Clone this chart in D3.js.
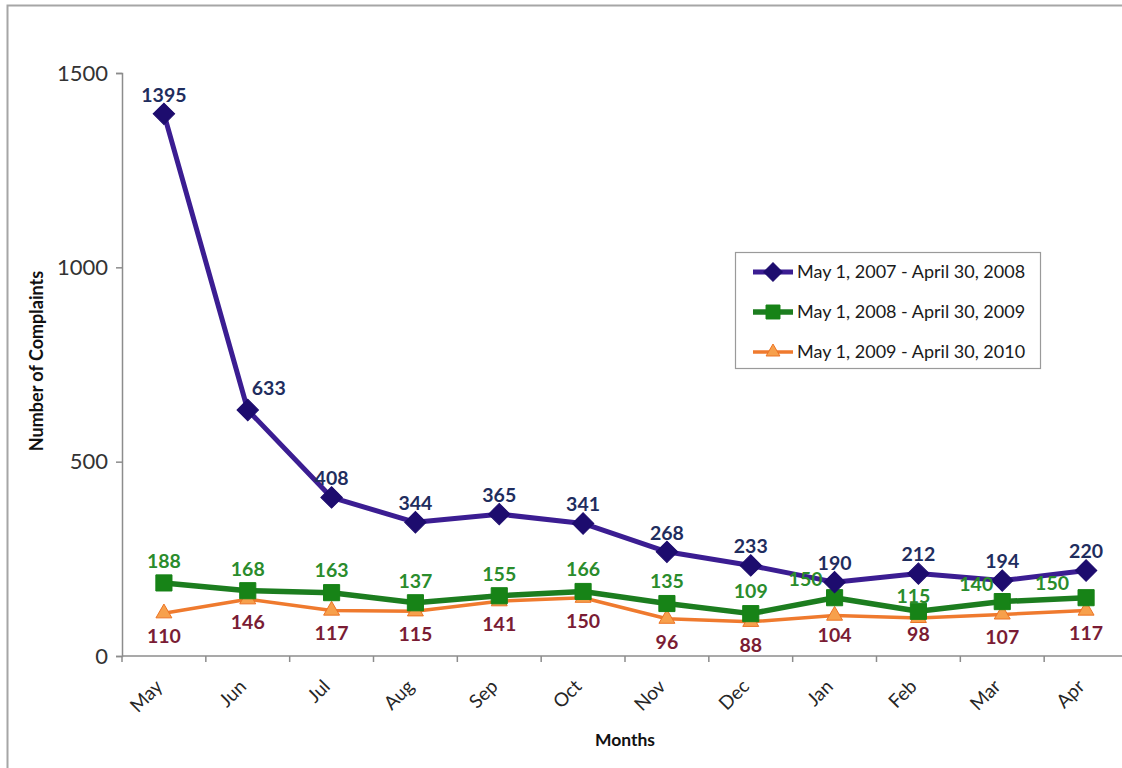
<!DOCTYPE html>
<html>
<head>
<meta charset="utf-8">
<script src="https://cdn.jsdelivr.net/npm/d3@7/dist/d3.min.js"></script>
<style>
  html, body { margin: 0; padding: 0; background: #fff; overflow: hidden; }
  svg { display: block; }
  text { font-family: Lato, "Open Sans", sans-serif; }
</style>
</head>
<body>
<svg id="chart" width="1122" height="768"></svg>
<script>
// Monthly complaint counts, one array per reporting year (May..Apr)
const months = ["May", "Jun", "Jul", "Aug", "Sep", "Oct", "Nov", "Dec", "Jan", "Feb", "Mar", "Apr"];
const seriesNames = [
  "May 1, 2007 - April 30, 2008",
  "May 1, 2008 - April 30, 2009",
  "May 1, 2009 - April 30, 2010"
];
const values2007 = [1395, 633, 408, 344, 365, 341, 268, 233, 190, 212, 194, 220];
const values2008 = [188, 168, 163, 137, 155, 166, 135, 109, 150, 115, 140, 150];
const values2009 = [110, 146, 117, 115, 141, 150, 96, 88, 104, 98, 107, 117];
const yTicks = [0, 500, 1000, 1500];

const svg = d3.select("#chart");

// outer frame (runs past the right and bottom edges of the page)
svg.append("rect")
  .attr("x", 7.5).attr("y", 5.5)
  .attr("width", 2000).attr("height", 2000)
  .attr("fill", "none").attr("stroke", "#a6a6a6").attr("stroke-width", 2);

const plot = { left: 122, right: 1128, top: 73, bottom: 656 };

const x = d3.scaleBand().domain(months).range([plot.left, plot.right]).padding(0);
const y = d3.scaleLinear().domain([0, 1500]).range([plot.bottom, plot.top]);
const cx = m => x(m) + x.bandwidth() / 2;

// Y axis
const yAxis = svg.append("g")
  .attr("transform", `translate(${plot.left},0)`)
  .call(d3.axisLeft(y).tickValues(yTicks).tickSize(6).tickPadding(8).tickFormat(d3.format("d")));
yAxis.select(".domain").attr("stroke", "#8c8c8c").attr("stroke-width", 1.5);
yAxis.selectAll(".tick line").attr("stroke", "#8c8c8c").attr("stroke-width", 1.5);
yAxis.selectAll(".tick text")
  .attr("font-family", "Lato, sans-serif").attr("font-size", 22).attr("fill", "#333");

// X axis with boundary ticks between categories
const xAxisG = svg.append("g").attr("transform", `translate(0,${plot.bottom})`);
xAxisG.append("line")
  .attr("x1", plot.left).attr("x2", plot.right)
  .attr("stroke", "#8c8c8c").attr("stroke-width", 1.5);
xAxisG.selectAll("line.tk")
  .data(months)
  .join("line")
  .attr("class", "tk")
  .attr("x1", d => x(d)).attr("x2", d => x(d))
  .attr("y1", 0).attr("y2", 6)
  .attr("stroke", "#8c8c8c").attr("stroke-width", 1.5);
xAxisG.selectAll("text")
  .data(months)
  .join("text")
  .attr("transform", d => `translate(${cx(d) - 5},${27}) rotate(-45)`)
  .attr("text-anchor", "end")
  .attr("dy", "0.35em")
  .attr("font-size", 19)
  .attr("fill", "#262626")
  .text(d => d);

// axis titles
svg.append("text")
  .attr("x", 625).attr("y", 746)
  .attr("text-anchor", "middle")
  .attr("font-size", 17.5).attr("font-weight", "bold").attr("fill", "#111")
  .text("Months");
svg.append("text")
  .attr("transform", `translate(43,361) rotate(-90)`)
  .attr("text-anchor", "middle")
  .attr("font-size", 18).attr("font-weight", "bold").attr("fill", "#111")
  .text("Number of Complaints");

const series = [
  { name: seriesNames[0], values: values2007, line: "#3b1d92", lineWidth: 5,
    marker: "diamond", fill: "#1d0c6e", stroke: "#1d0c6e", size: 230,
    labelColor: "#1f2d5e", labelDy: -19 },
  { name: seriesNames[1], values: values2008, line: "#1c7d1f", lineWidth: 5.5,
    marker: "square", fill: "#178317", stroke: "#178317", size: 260,
    labelColor: "#2a8c2c", labelDy: -22 },
  { name: seriesNames[2], values: values2009, line: "#ef7a2e", lineWidth: 3.5,
    marker: "triangle", fill: "#f7a04c", stroke: "#ec7324", size: 110,
    labelColor: "#7a1c34", labelDy: 23 }
];

// label nudges where text would collide with neighbouring marks
const labelNudge = {
  "0-Jun": [21, -3],
  "1-Jan": [-29, 3],
  "1-Mar": [-26, 5],
  "1-Apr": [-34, 7],
  "1-Feb": [-5, 7],
  "2-Feb": [0, -7],
  "2-Jan": [0, -3]
};

// diamond drawn as a square turned 45°, so it is as wide as it is tall
const markerPath = (kind, size) => {
  if (kind === "diamond") return d3.symbol().type(d3.symbolSquare).size(size)();
  if (kind === "square") return d3.symbol().type(d3.symbolSquare).size(size)();
  return d3.symbol().type(d3.symbolTriangle).size(size)();
};
const markerRot = kind => (kind === "diamond" ? 45 : 0);

const line = d3.line().x((d, i) => cx(months[i])).y(d => y(d));

// draw in reverse so the first series sits on top
series.slice().reverse().forEach(s => {
  svg.append("path")
    .datum(s.values)
    .attr("d", line)
    .attr("fill", "none")
    .attr("stroke", s.line)
    .attr("stroke-width", s.lineWidth)
    .attr("stroke-linejoin", "round");
  svg.append("g").selectAll("path")
    .data(s.values)
    .join("path")
    .attr("transform", (d, i) => `translate(${cx(months[i])},${y(d)}) rotate(${markerRot(s.marker)})`)
    .attr("d", markerPath(s.marker, s.size))
    .attr("fill", s.fill)
    .attr("stroke", s.stroke)
    .attr("stroke-width", 1);
});

series.forEach((s, si) => {
  svg.append("g").selectAll("text")
    .data(s.values)
    .join("text")
    .attr("x", (d, i) => cx(months[i]) + ((labelNudge[`${si}-${months[i]}`] || [0, 0])[0]))
    .attr("y", (d, i) => y(d) + s.labelDy + ((labelNudge[`${si}-${months[i]}`] || [0, 0])[1]))
    .attr("dy", "0.35em")
    .attr("text-anchor", "middle")
    .attr("font-size", 19.5)
    .attr("font-weight", "bold")
    .attr("fill", s.labelColor)
    .text(d => d);
});

// legend
const legend = svg.append("g").attr("transform", "translate(735,252)");
legend.append("rect")
  .attr("x", 0.5).attr("y", 0.5).attr("width", 305).attr("height", 116)
  .attr("fill", "#fff").attr("stroke", "#9a9a9a").attr("stroke-width", 1.2);
series.forEach((s, i) => {
  const gy = 20 + i * 40;
  const item = legend.append("g").attr("transform", `translate(0,${gy})`);
  item.append("line")
    .attr("x1", 18).attr("x2", 58).attr("y1", 0).attr("y2", 0)
    .attr("stroke", s.line).attr("stroke-width", s.lineWidth);
  item.append("path")
    .attr("transform", `translate(38,0) rotate(${markerRot(s.marker)})`)
    .attr("d", markerPath(s.marker, s.size * 0.75))
    .attr("fill", s.fill).attr("stroke", s.stroke);
  item.append("text")
    .attr("x", 62).attr("y", 0).attr("dy", "0.35em")
    .attr("font-size", 18).attr("fill", "#1a1a1a")
    .text(s.name);
});
</script>
</body>
</html>
